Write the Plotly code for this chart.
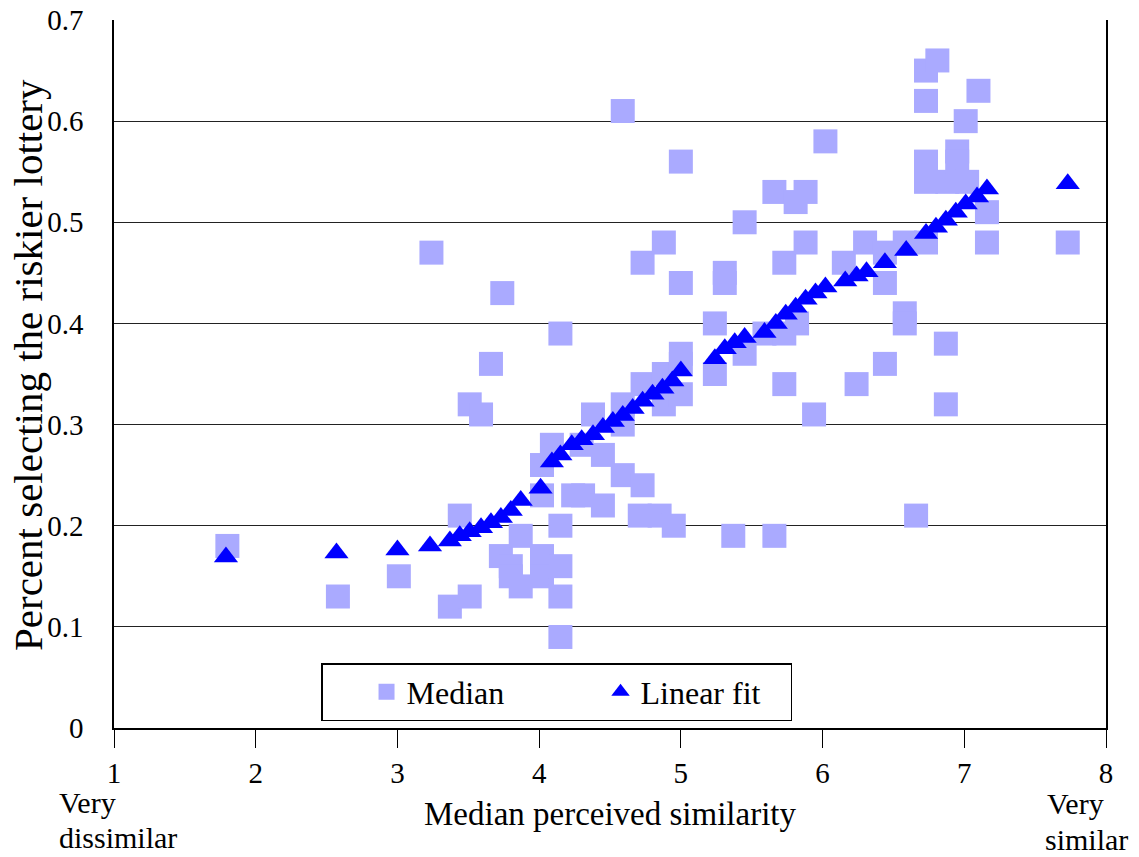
import plotly.graph_objects as go

# Median points (x = median perceived similarity, y = percent selecting riskier lottery)
median_x = [1.80, 2.58, 3.01, 3.24, 3.37, 3.44, 3.51, 3.51, 3.59, 3.66, 3.74, 3.73, 3.80, 3.80,
            3.87, 3.87, 4.02, 4.02, 4.02, 4.02, 4.09, 4.15, 4.15, 4.15, 4.15, 4.15, 4.24, 4.31,
            4.30, 4.38, 4.45, 4.45, 4.59, 4.59, 4.59, 4.59, 4.73, 4.73, 4.73, 4.71, 4.85, 4.88,
            4.88, 4.88, 4.95, 5.00, 5.00, 5.00, 5.00, 5.00, 5.24, 5.24, 5.31, 5.31, 5.37, 5.45,
            5.45, 5.59, 5.66, 5.66, 5.73, 5.73, 5.73, 5.81, 5.82, 5.88, 5.88, 5.94, 6.02, 6.15,
            6.24, 6.30, 6.44, 6.44, 6.44, 6.58, 6.58, 6.58, 6.66, 6.73, 6.73, 6.73, 6.73, 6.73,
            6.81, 6.88, 6.87, 6.87, 6.95, 6.95, 7.01, 7.02, 7.10, 7.16, 7.16, 7.73]
median_y = [0.18, 0.13, 0.15, 0.47, 0.12, 0.21, 0.13, 0.32, 0.31, 0.36, 0.43, 0.17, 0.16, 0.15,
            0.14, 0.19, 0.26, 0.23, 0.17, 0.15, 0.28, 0.39, 0.20, 0.16, 0.13, 0.09, 0.23, 0.23,
            0.28, 0.31, 0.27, 0.22, 0.61, 0.32, 0.30, 0.25, 0.46, 0.34, 0.24, 0.21, 0.21, 0.48,
            0.35, 0.32, 0.20, 0.56, 0.44, 0.37, 0.36, 0.33, 0.40, 0.35, 0.45, 0.44, 0.19, 0.50,
            0.37, 0.39, 0.53, 0.19, 0.46, 0.39, 0.34, 0.52, 0.40, 0.53, 0.48, 0.31, 0.58, 0.46,
            0.34, 0.48, 0.47, 0.44, 0.36, 0.48, 0.41, 0.40, 0.21, 0.65, 0.62, 0.56, 0.54, 0.48,
            0.66, 0.54, 0.38, 0.32, 0.57, 0.56, 0.60, 0.54, 0.63, 0.51, 0.48, 0.48]

# Linear fit points
fit_x = [1.79, 2.57, 3.00, 3.23, 3.37, 3.44, 3.51, 3.59, 3.66, 3.73, 3.80, 3.87, 4.01, 4.09,
         4.15, 4.23, 4.30, 4.38, 4.45, 4.52, 4.59, 4.66, 4.73, 4.80, 4.87, 4.94, 5.00, 5.24,
         5.31, 5.38, 5.45, 5.59, 5.67, 5.74, 5.81, 5.88, 5.95, 6.02, 6.16, 6.24, 6.31, 6.44,
         6.59, 6.73, 6.80, 6.87, 6.94, 7.01, 7.09, 7.16, 7.73]
fit_y = [0.169, 0.173, 0.176, 0.180, 0.185, 0.190, 0.194, 0.198, 0.203, 0.208, 0.215, 0.225,
         0.237, 0.263, 0.270, 0.280, 0.285, 0.290, 0.297, 0.303, 0.309, 0.316, 0.323, 0.330,
         0.336, 0.343, 0.353, 0.365, 0.375, 0.381, 0.386, 0.391, 0.400, 0.409, 0.416, 0.424,
         0.430, 0.436, 0.442, 0.447, 0.451, 0.460, 0.472, 0.489, 0.495, 0.502, 0.510, 0.518,
         0.525, 0.533, 0.538]

x_ticks = [1, 2, 3, 4, 5, 6, 7, 8]
y_ticks = [0, 0.1, 0.2, 0.3, 0.4, 0.5, 0.6, 0.7]
y_tick_labels = ["0", "0.1", "0.2", "0.3", "0.4", "0.5", "0.6", "0.7"]

FONT = "Liberation Serif"

fig = go.Figure()
fig.add_trace(go.Scatter(
    x=median_x, y=median_y, mode="markers", name="Median",
    marker=dict(symbol="square", size=24, color="#AAAAFF", line=dict(width=0)),
))
fig.add_trace(go.Scatter(
    x=fit_x, y=fit_y, mode="markers", name="Linear fit",
    marker=dict(symbol="triangle-up", size=21, color="#0000FF", line=dict(width=0)),
))

fig.update_layout(
    width=1139, height=857,
    margin=dict(l=114, r=33, t=20, b=129, autoexpand=False),
    paper_bgcolor="white", plot_bgcolor="white",
    font=dict(family=FONT, size=29, color="black"),
    showlegend=True,
    legend=dict(
        orientation="h", x=0.2087, y=0.0918, xanchor="left", yanchor="top",
        bgcolor="white", bordercolor="black", borderwidth=1.5,
        font=dict(family=FONT, size=32), entrywidth=145, indentation=44,
        itemsizing="trace",
    ),
    xaxis=dict(
        range=[1, 8], tickvals=x_ticks, ticks="outside", ticklen=18, tickcolor="black",
        showgrid=False, zeroline=False, showline=True, linecolor="black", linewidth=1.5,
        mirror=False, automargin=False, ticklabeloverflow="allow",
        title=dict(text="Median perceived similarity", standoff=14,
                   font=dict(family=FONT, size=33)),
    ),
    yaxis=dict(
        range=[0, 0.7], tickvals=y_ticks, ticktext=y_tick_labels, ticks="",
        showgrid=True, gridcolor="#222222", gridwidth=1.3, zeroline=False,
        showline=True, linecolor="black", linewidth=1.5, mirror=True,
        ticklabelstandoff=23, automargin=False, ticklabeloverflow="allow",
    ),
    annotations=[
        dict(text="Percent selecting the riskier lottery", xref="paper", yref="paper",
             x=-0.0867, y=0.5127, xanchor="center", yanchor="middle", textangle=-90,
             showarrow=False, font=dict(family=FONT, size=41)),
        dict(text="Very", xref="paper", yref="paper", x=-0.0575, y=-0.1059,
             xanchor="left", yanchor="middle", showarrow=False,
             font=dict(family=FONT, size=30)),
        dict(text="dissimilar", xref="paper", yref="paper", x=-0.0575, y=-0.1540,
             xanchor="left", yanchor="middle", showarrow=False,
             font=dict(family=FONT, size=30)),
        dict(text="Very", xref="paper", yref="paper", x=0.9385, y=-0.1073,
             xanchor="left", yanchor="middle", showarrow=False,
             font=dict(family=FONT, size=30)),
        dict(text="similar", xref="paper", yref="paper", x=0.9365, y=-0.158,
             xanchor="left", yanchor="middle", showarrow=False,
             font=dict(family=FONT, size=30)),
    ],
)

fig.write_html("out.html", config={"displayModeBar": False},
               post_script="document.body.style.margin='0';document.body.style.padding='0';")
